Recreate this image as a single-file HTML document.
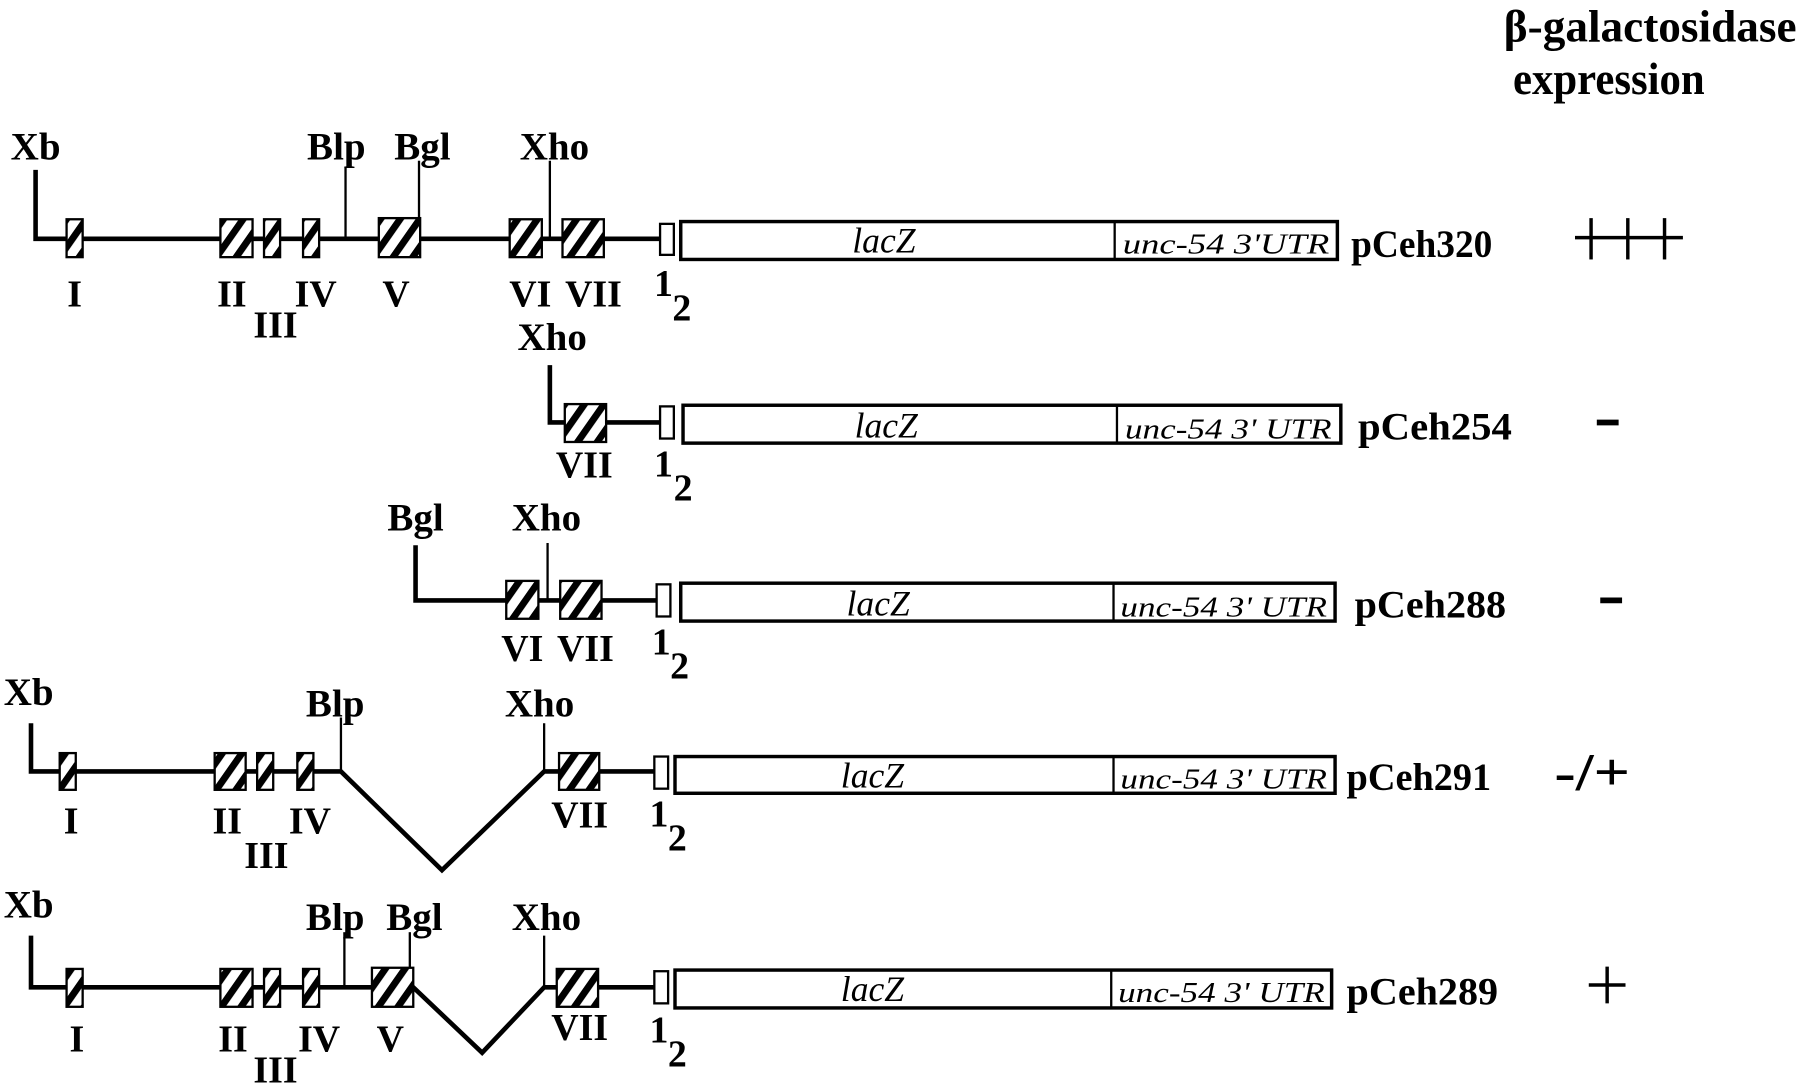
<!DOCTYPE html>
<html><head><meta charset="utf-8"><style>
html,body{margin:0;padding:0;background:#fff;}
svg{display:block;}
text{font-family:"Liberation Serif",serif;font-weight:bold;fill:#000;}
.it{font-style:italic;font-weight:normal;}
.rom{font-size:33px;text-anchor:middle;}
.site{font-size:34px;text-anchor:middle;}
.nm{font-size:34px;font-weight:bold;}
</style></head><body>
<svg width="1800" height="1089" viewBox="0 0 1568 948.6" preserveAspectRatio="none" xmlns="http://www.w3.org/2000/svg">
<defs>
<pattern id="h" width="14" height="14" patternUnits="userSpaceOnUse" patternTransform="rotate(35)">
<rect width="14" height="14" fill="#fff"/><rect width="6" height="14" fill="#000"/>
</pattern>
</defs>
<g stroke="#000" fill="none" stroke-width="4">
<polyline points="31,148 31,208 575,208"/>
<line x1="301" y1="145" x2="301" y2="208" stroke-width="2"/>
<line x1="365" y1="140" x2="365" y2="192" stroke-width="2"/>
<line x1="479" y1="140" x2="479" y2="208" stroke-width="2"/>
<polyline points="479,318 479,368 575,368" />
<polyline points="362,475 362,523 575,523"/>
<line x1="477" y1="473" x2="477" y2="523" stroke-width="2"/>
<polyline points="27,630 27,672 297,672 385,758 474,672 575,672"/>
<line x1="297" y1="625" x2="297" y2="672" stroke-width="2"/>
<line x1="474" y1="630" x2="474" y2="672" stroke-width="2"/>
<polyline points="27,815 27,860 360,860 420,917 474,860 575,860"/>
<line x1="300" y1="812" x2="300" y2="860" stroke-width="2"/>
<line x1="357" y1="812" x2="357" y2="845" stroke-width="2"/>
<line x1="474" y1="815" x2="474" y2="860" stroke-width="2"/>
<!-- expression marks -->
<line x1="1372" y1="207" x2="1466" y2="207" stroke-width="3"/>
<line x1="1386" y1="190" x2="1386" y2="226" stroke-width="3"/>
<line x1="1418" y1="190" x2="1418" y2="226" stroke-width="3"/>
<line x1="1450" y1="190" x2="1450" y2="226" stroke-width="3"/>
<line x1="1391" y1="368" x2="1410" y2="368" stroke-width="5"/>
<line x1="1394" y1="523" x2="1413" y2="523" stroke-width="5"/>
<line x1="1384" y1="858" x2="1416" y2="858" stroke-width="3"/>
<line x1="1400" y1="842" x2="1400" y2="874" stroke-width="3"/>
</g>
<g stroke="#000" stroke-width="2" fill="url(#h)">
<rect x="58" y="191" width="14" height="33"/><rect x="192" y="191" width="28" height="33"/><rect x="230" y="191" width="14" height="33"/><rect x="264" y="191" width="14" height="33"/><rect x="330" y="190" width="36" height="34"/><rect x="444" y="191" width="28" height="33"/><rect x="490" y="191" width="36" height="33"/>
<rect x="492" y="352" width="36" height="33"/>
<rect x="441" y="506" width="28" height="33"/><rect x="488" y="506" width="36" height="33"/>
<rect x="52" y="656" width="14" height="32"/><rect x="187" y="656" width="27" height="32"/><rect x="224" y="656" width="14" height="32"/><rect x="259" y="656" width="14" height="32"/><rect x="487" y="656" width="35" height="32"/>
<rect x="58" y="844" width="14" height="33"/><rect x="192" y="844" width="28" height="33"/><rect x="230" y="844" width="14" height="33"/><rect x="264" y="844" width="14" height="33"/><rect x="324" y="843" width="36" height="34"/><rect x="485" y="844" width="36" height="33"/>
</g>
<g stroke="#000" fill="#fff">
<rect x="575" y="195" width="12" height="27" stroke-width="2"/>
<rect x="593" y="193" width="572" height="33" stroke-width="3"/><line x1="971" y1="193" x2="971" y2="226" stroke-width="2"/>
<rect x="575" y="354" width="12" height="28" stroke-width="2"/>
<rect x="595" y="353" width="573" height="33" stroke-width="3"/><line x1="973" y1="353" x2="973" y2="386" stroke-width="2"/>
<rect x="572" y="509" width="12" height="28" stroke-width="2"/>
<rect x="593" y="508" width="570" height="33" stroke-width="3"/><line x1="970" y1="508" x2="970" y2="541" stroke-width="2"/>
<rect x="570" y="659" width="12" height="28" stroke-width="2"/>
<rect x="588" y="659" width="575" height="32" stroke-width="3"/><line x1="970" y1="659" x2="970" y2="691" stroke-width="2"/>
<rect x="570" y="846" width="12" height="28" stroke-width="2"/>
<rect x="588" y="845" width="572" height="33" stroke-width="3"/><line x1="968" y1="845" x2="968" y2="878" stroke-width="2"/>
</g>
<text x="1310" y="36" font-size="40" textLength="255" lengthAdjust="spacingAndGlyphs">β-galactosidase</text>
<text x="1318" y="82" font-size="40" textLength="167" lengthAdjust="spacingAndGlyphs">expression</text>
<!-- row1 -->
<text class="site" x="31" y="139">Xb</text><text class="site" x="293" y="139">Blp</text><text class="site" x="368" y="139">Bgl</text><text class="site" x="483" y="139">Xho</text>
<text class="rom" x="65" y="267">I</text><text class="rom" x="202" y="267">II</text><text class="rom" x="240" y="294">III</text><text class="rom" x="275" y="267">IV</text><text class="rom" x="345" y="267">V</text><text class="rom" x="462" y="267">VI</text><text class="rom" x="517" y="267">VII</text>
<text class="rom" x="578" y="258">1</text><text class="rom" x="594" y="279">2</text>
<text class="it" x="770" y="220" font-size="31" text-anchor="middle">lacZ</text>
<text class="it" x="1068" y="221" font-size="25" text-anchor="middle" textLength="180" lengthAdjust="spacingAndGlyphs">unc-54 3'UTR</text>
<text class="nm" x="1177" y="224" textLength="123" lengthAdjust="spacingAndGlyphs">pCeh320</text>
<!-- row2 -->
<text class="site" x="481" y="305">Xho</text>
<text class="rom" x="509" y="416">VII</text><text class="rom" x="578" y="415">1</text><text class="rom" x="595" y="436">2</text>
<text class="it" x="772" y="381" font-size="31" text-anchor="middle">lacZ</text>
<text class="it" x="1070" y="382" font-size="25" text-anchor="middle" textLength="180" lengthAdjust="spacingAndGlyphs">unc-54  3' UTR</text>
<text class="nm" x="1183" y="383" textLength="134" lengthAdjust="spacingAndGlyphs">pCeh254</text>
<!-- row3 -->
<text class="site" x="362" y="462">Bgl</text><text class="site" x="476" y="462">Xho</text>
<text class="rom" x="455" y="576">VI</text><text class="rom" x="510" y="576">VII</text><text class="rom" x="576" y="570">1</text><text class="rom" x="592" y="591">2</text>
<text class="it" x="765" y="536" font-size="31" text-anchor="middle">lacZ</text>
<text class="it" x="1066" y="537" font-size="25" text-anchor="middle" textLength="180" lengthAdjust="spacingAndGlyphs">unc-54  3' UTR</text>
<text class="nm" x="1180" y="538" textLength="132" lengthAdjust="spacingAndGlyphs">pCeh288</text>
<!-- row4 -->
<text class="site" x="25" y="614">Xb</text><text class="site" x="292" y="624">Blp</text><text class="site" x="470" y="624">Xho</text>
<text class="rom" x="62" y="726">I</text><text class="rom" x="198" y="726">II</text><text class="rom" x="232" y="756">III</text><text class="rom" x="270" y="726">IV</text><text class="rom" x="505" y="721">VII</text><text class="rom" x="574" y="720">1</text><text class="rom" x="590" y="741">2</text>
<text class="it" x="760" y="686" font-size="31" text-anchor="middle">lacZ</text>
<text class="it" x="1066" y="687" font-size="25" text-anchor="middle" textLength="180" lengthAdjust="spacingAndGlyphs">unc-54  3' UTR</text>
<text class="nm" x="1173" y="688" textLength="126" lengthAdjust="spacingAndGlyphs">pCeh291</text>
<text x="1387" y="688" font-size="46" font-weight="normal" text-anchor="middle" textLength="66" lengthAdjust="spacingAndGlyphs">-/+</text>
<!-- row5 -->
<text class="site" x="25" y="799">Xb</text><text class="site" x="292" y="810">Blp</text><text class="site" x="361" y="810">Bgl</text><text class="site" x="476" y="810">Xho</text>
<text class="rom" x="67" y="916">I</text><text class="rom" x="203" y="916">II</text><text class="rom" x="240" y="943">III</text><text class="rom" x="278" y="916">IV</text><text class="rom" x="340" y="916">V</text><text class="rom" x="505" y="906">VII</text><text class="rom" x="574" y="908">1</text><text class="rom" x="590" y="929">2</text>
<text class="it" x="760" y="872" font-size="31" text-anchor="middle">lacZ</text>
<text class="it" x="1064" y="873" font-size="25" text-anchor="middle" textLength="180" lengthAdjust="spacingAndGlyphs">unc-54  3' UTR</text>
<text class="nm" x="1173" y="875" textLength="132" lengthAdjust="spacingAndGlyphs">pCeh289</text>
</svg>
</body></html>
